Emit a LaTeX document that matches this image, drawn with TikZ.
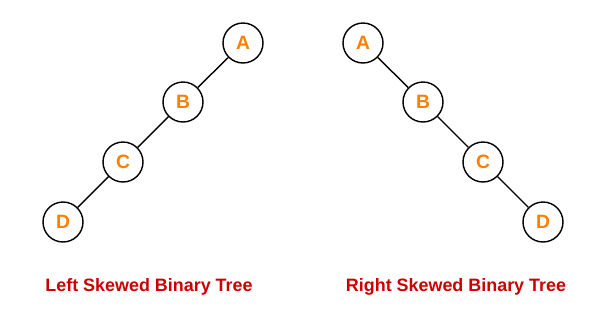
\documentclass[tikz,border=0pt]{standalone}
\usepackage{fontspec}
\setmainfont{Liberation Sans}
\usetikzlibrary{positioning}
\definecolor{TreeOrange}{RGB}{255,128,0}
\definecolor{TreeRed}{RGB}{204,0,0}
\tikzset{
  tnode/.style={circle,draw=black,thick,fill=white,minimum size=0.8cm,inner sep=0pt,font=\fontsize{11}{13}\selectfont\bfseries,text=TreeOrange},
  edge/.style={black,thick},
  caption/.style={font=\fontsize{10.2}{12}\selectfont\bfseries,text=TreeRed},
}
\begin{document}
\begin{tikzpicture}[x=0.02cm,y=-0.02cm]
    \useasboundingbox (0,0) rectangle (613,319);
    %% Left skewed
    \node[tnode] (lA) at (243,43) {A};
    \node[tnode] (lB) at (183,102) {B};
    \node[tnode] (lC) at (123,162) {C};
    \node[tnode] (lD) at (63,222) {D};
    %% Right skewed
    \node[tnode] (rA) at (363,43) {A};
    \node[tnode] (rB) at (423,102) {B};
    \node[tnode] (rC) at (483,162) {C};
    \node[tnode] (rD) at (543,222) {D};
    %% Edges
    \draw[edge] (lA)--(lB);
    \draw[edge] (lB)--(lC);
    \draw[edge] (lC)--(lD);
    \draw[edge] (rA)--(rB);
    \draw[edge] (rB)--(rC);
    \draw[edge] (rC)--(rD);
    %% Captions
    \node[caption] (lcap) at (149,287) {Left Skewed Binary Tree};
    \node[caption] (rcap) at (456,287) {Right Skewed Binary Tree};
\end{tikzpicture}
\end{document}
